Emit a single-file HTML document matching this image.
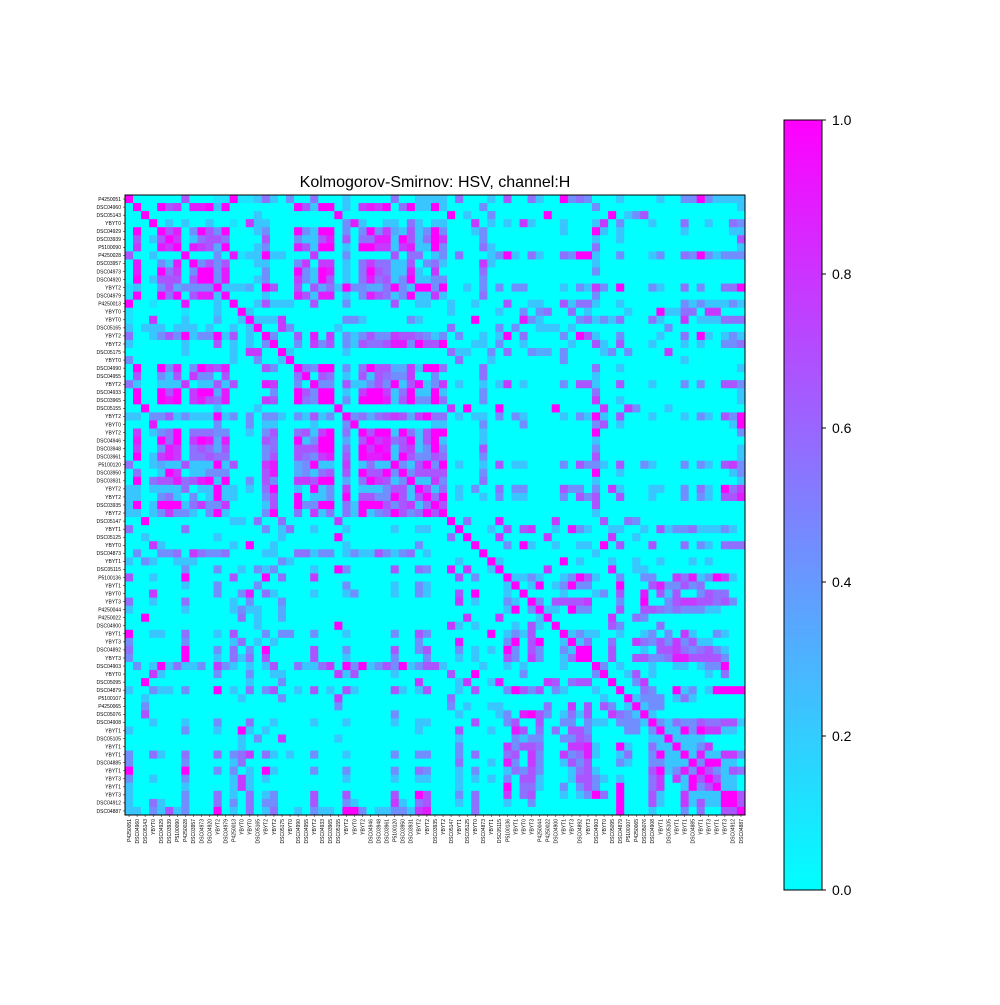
<!DOCTYPE html>
<html><head><meta charset="utf-8"><style>
body{margin:0;background:#fff;}
svg text{font-family:"Liberation Sans",sans-serif;}
</style></head><body>
<svg id="fig" width="1000" height="1000" viewBox="0 0 1000 1000">
<rect width="1000" height="1000" fill="#fff"/>
<text x="435" y="187" font-size="16" text-anchor="middle">Kolmogorov-Smirnov: HSV, channel:H</text>
<g id="cells"></g>
<g id="ylab"></g>
<g id="xlab"></g>
<rect x="125" y="195" width="620" height="620" fill="none" stroke="#000" stroke-width="1"/>
<defs><linearGradient id="cg" x1="0" y1="1" x2="0" y2="0"><stop offset="0" stop-color="#00ffff"/><stop offset="1" stop-color="#ff00ff"/></linearGradient></defs>
<rect x="784" y="120" width="38" height="770" fill="url(#cg)" stroke="#000" stroke-width="1"/>
<g id="cbt"></g>
</svg>
<script>
const labels=["P4250051","DSC04960","DSC05143","YBYT0","DSC04929","DSC03939","P5100090","P4250028","DSC03957","DSC04973","DSC04920","YBYT2","DSC04979","P4250013","YBYT0","YBYT0","DSC05165","YBYT2","YBYT2","DSC05175","YBYT0","DSC04990","DSC04955","YBYT2","DSC04933","DSC03965","DSC05155","YBYT2","YBYT0","YBYT2","DSC04946","DSC03948","DSC03961","P5100120","DSC03950","DSC03931","YBYT2","YBYT2","DSC03935","YBYT2","DSC05147","YBYT1","DSC05125","YBYT0","DSC04873","YBYT1","DSC05115","P5100136","YBYT1","YBYT0","YBYT3","P4250044","P4250022","DSC04900","YBYT1","YBYT3","DSC04892","YBYT3","DSC04903","YBYT0","DSC05095","DSC04879","P5100107","P4250065","DSC05076","DSC04908","YBYT1","DSC05105","YBYT1","YBYT1","DSC04885","YBYT1","YBYT3","YBYT1","YBYT3","DSC04912","DSC04887"];
const cbTicks=[0,0.2,0.4,0.6,0.8,1.0];
const cbTickLabels=["0.0","0.2","0.4","0.6","0.8","1.0"];
// sparse entries "col:value(0-9)" per row; matrix is symmetric
const rowEntries=[
"0:9,7:6,11:1,12:1,13:9,14:1,15:1,16:2,17:5,18:2,20:4,23:5,27:2,33:5,36:2,37:2,38:2,39:2,41:5,45:2,47:6,50:5,51:2,54:9,55:4,56:5,57:4,61:2,66:2,69:4,70:4,71:9,72:4,73:2,74:2,75:2,76:2",
"1:9,4:9,5:6,6:7,8:8,9:8,10:9,11:2,12:9,21:9,22:6,23:2,24:9,25:9,27:2,29:7,30:8,31:7,32:9,34:5,35:9,36:2,37:2,38:9,39:2,44:4,58:4,76:2",
"2:9,16:2,26:9,40:9,42:2,45:4,52:9,60:9,62:2,63:4,64:6",
"3:9,5:2,7:2,10:2,13:1,15:7,16:2,17:2,27:4,28:8,29:2,32:2,33:2,35:5,36:2,38:2,39:2,43:7,45:2,47:2,49:7,50:2,54:2,58:2,59:7,61:4,65:2,69:5,72:2,75:5,76:4",
"4:9,5:6,6:8,8:4,9:9,10:6,11:4,12:9,16:2,17:4,21:9,22:4,23:2,24:9,25:9,27:4,29:4,30:9,31:4,32:7,33:3,34:2,35:6,36:2,37:4,38:9,39:4,43:2,44:4,54:2,58:9,59:2,61:2,69:2,75:2,76:2",
"5:9,6:7,8:2,9:5,10:6,11:6,12:5,17:6,21:4,22:2,23:2,24:6,25:8,27:6,29:5,30:5,31:8,32:8,33:2,34:9,35:6,36:2,37:5,38:9,39:7,44:4,58:2,61:2,76:6",
"6:9,8:8,9:7,10:6,11:3,12:9,16:2,17:4,21:8,22:6,23:2,24:9,25:9,27:2,29:9,30:9,31:7,32:7,33:2,34:7,35:8,36:2,37:2,38:9,39:4,44:5,45:2,58:5,76:2",
"7:9,11:4,13:8,14:1,15:2,16:2,17:9,18:2,19:2,23:7,27:4,33:6,35:5,36:5,38:2,39:4,41:5,45:2,46:4,47:9,48:2,50:5,51:2,54:5,55:4,56:9,57:9,58:2,61:4,65:2,66:4,69:5,70:4,71:9,72:4,73:2,74:4,75:4,76:4",
"8:9,9:4,10:6,11:4,12:6,16:2,17:2,21:4,22:7,24:7,25:7,27:2,29:5,30:7,31:5,32:5,33:2,34:2,35:6,37:4,38:5,39:2,44:7,45:2,58:2",
"9:9,10:9,11:4,12:8,17:4,21:9,22:4,23:2,24:9,25:8,27:2,29:5,30:9,31:6,32:5,33:2,34:2,35:8,36:2,38:7,44:5,58:4",
"10:9,11:4,12:8,16:2,17:4,21:7,22:4,23:2,24:9,25:6,27:2,29:5,30:8,31:5,32:6,33:2,34:4,35:9,36:2,37:2,38:4,39:4,44:4",
"11:9,12:2,13:2,14:2,15:3,17:9,18:6,21:6,23:6,24:3,25:5,26:2,27:9,28:4,29:4,30:3,31:3,32:5,33:9,34:4,35:2,36:9,37:9,38:4,39:9,42:2,44:4,46:4,48:4,49:4,54:2,56:4,57:2,58:7,59:4,61:9,65:4,66:2,69:5,71:4,74:5,75:5,76:9",
"12:9,17:2,21:8,22:6,23:2,24:8,25:8,27:2,29:4,30:8,31:6,32:5,33:2,34:4,35:9,36:2,37:2,38:7,39:2,44:5,58:4",
"13:9,16:2,17:6,18:2,19:2,20:2,23:6,27:4,33:6,36:2,37:2,40:2,43:2,47:6,50:2,51:2,54:6,55:2,56:5,57:5,58:2,61:2,69:4,70:2,71:4,72:2,73:2,74:2,75:4,76:2",
"14:9,15:2,40:2,46:2,49:4,51:4,52:5,55:5,57:2,62:2,66:9,67:2,68:2,69:5,70:5,72:7,73:7",
"15:9,16:2,17:2,18:2,19:7,27:4,28:4,29:2,35:4,36:2,43:9,49:8,50:4,51:2,56:4,57:5,58:2,59:4,60:2,61:5,65:5,66:2,69:7,71:2,72:2,73:2,74:5,75:5,76:5",
"16:9,19:7,20:4,26:2,40:5,46:4,48:4,51:2,52:2,53:2,55:2,67:4",
"17:9,18:4,21:6,23:8,25:7,27:4,28:2,29:4,30:6,31:4,32:4,33:7,34:6,35:6,36:5,37:4,38:2,39:4,41:4,44:2,46:2,47:9,49:5,54:4,56:9,57:6,58:2,61:4,66:2,69:5,71:9,72:2,74:2,75:4,76:2",
"18:9,21:4,23:7,24:4,25:6,27:4,28:2,29:6,30:5,31:5,32:6,33:8,34:8,35:4,36:9,37:6,38:6,39:9,43:2,44:2,46:4,49:2,55:2,58:6,59:2,61:6,65:2,69:2,71:2,74:4,75:4,76:5",
"19:9,20:2,27:2,40:5,41:2,42:2,45:4,47:5,50:4,51:3,52:3,54:4,59:2,60:4,62:4,67:7",
"20:9,41:5,45:2,54:4,69:2",
"21:9,22:5,23:4,24:9,25:9,27:4,29:5,30:9,31:6,32:6,33:3,34:3,35:7,36:2,37:9,38:9,39:5,44:5,58:5,61:2,76:2",
"22:9,24:6,25:5,27:2,29:6,30:2,31:6,32:5,33:4,34:4,35:7,38:4,44:5,58:2",
"23:9,24:4,25:4,27:6,28:2,29:2,30:4,31:6,32:4,33:9,34:2,35:6,36:9,37:2,38:4,39:7,41:2,44:2,46:2,47:7,49:2,54:4,56:6,57:6,58:2,61:6,65:2,69:4,71:4,74:6,75:6,76:4",
"24:9,25:9,27:2,29:7,30:9,31:9,32:7,33:2,34:5,35:9,36:2,37:2,38:9,39:2,44:4,58:5,76:2",
"25:9,27:4,29:9,30:9,31:9,32:8,33:2,34:6,35:9,36:4,37:4,38:9,39:5,44:4,58:7,61:2,76:2",
"26:9,40:7,42:9,46:9,53:9,59:7,62:7,63:4,67:2",
"27:9,28:4,29:5,30:3,31:5,32:6,33:7,34:6,35:3,36:7,37:9,38:5,39:5,41:2,43:2,44:2,46:4,48:4,49:2,54:2,56:4,57:2,58:9,59:2,61:6,65:2,69:2,71:4,72:2,74:6,75:4,76:9",
"28:9,38:2,39:2,44:4,49:4,58:4,59:6,61:2,75:2,76:9",
"29:9,30:6,31:9,32:9,33:2,34:9,35:5,36:2,37:6,38:9,39:9,44:2,58:9,76:4",
"30:9,31:7,32:8,33:5,34:6,35:9,36:2,37:6,38:9,39:2,44:2,58:2",
"31:9,32:8,33:2,34:6,35:7,36:2,37:4,38:9,39:4,44:6,58:4,76:2",
"32:9,33:2,34:9,35:6,36:4,37:4,38:6,39:5,44:4,58:6,76:2",
"33:9,34:4,35:2,36:6,37:9,38:4,39:9,41:2,44:2,46:6,48:2,49:2,54:4,56:6,57:4,58:4,59:2,61:6,64:4,65:2,69:4,71:4,72:2,74:6,75:7,76:4",
"34:9,35:4,36:6,37:6,38:6,39:6,44:4,58:9,61:2,75:2,76:4",
"35:9,36:2,37:2,38:7,39:4,44:5,58:2,76:2",
"36:9,37:6,38:2,39:5,41:2,43:4,46:5,48:4,49:4,54:6,55:4,56:4,58:4,60:7,61:2,65:2,66:2,69:4,71:5,72:2,74:9,75:5,76:7",
"37:9,38:5,39:9,41:2,44:2,46:4,48:2,49:2,54:4,56:6,57:4,58:6,61:6,65:2,69:4,71:4,72:2,74:6,75:6,76:8",
"38:9,39:6,58:6",
"39:9,58:2",
"40:9,42:5,46:8,53:7,59:6,62:5,63:4",
"41:9,45:2,47:6,49:6,50:7,53:2,55:8,56:4,57:2,60:2,61:2,64:2,66:6,67:2,68:4,69:4,70:5,71:2,72:2,73:2,74:4,75:2",
"42:9,46:7,52:7,60:7,63:2",
"43:9,47:4,49:9,50:2,53:2,56:2,57:2,59:9,61:6,65:6,69:5,71:4,72:2,74:5,75:5,76:5",
"44:9,58:2",
"45:9,46:2,54:9,56:2,60:2,63:2,66:2,70:2,72:2",
"46:9,52:7,60:8,63:2,64:2",
"47:9,48:2,49:2,50:4,51:2,54:2,55:4,56:9,57:6,58:2,61:4,64:4,65:4,68:7,69:5,70:8,71:2,72:4,73:9,74:7,75:2",
"48:9,50:2,51:9,53:2,54:4,55:9,56:4,57:4,61:9,65:6,66:8,67:4,68:4,69:6,70:4,71:5",
"49:9,54:2,58:2,59:4,61:6,64:8,66:6,67:2,68:6,71:4,72:6,73:5,74:5",
"50:9,51:4,53:6,54:6,55:6,56:6,57:7,61:4,64:9,67:4,68:6,69:7,70:7,71:6,72:6,73:5,74:6,75:4",
"51:9,52:2,53:2,55:9,56:4,57:4,61:6,64:6,65:6,66:5,67:4,68:5,69:4,70:4,71:4,72:2,73:2",
"52:9,60:7,63:5,64:4",
"53:9,60:6,61:4,66:5",
"54:9,55:2,56:4,57:2,58:2,61:2,64:2,65:4,67:4,69:7,70:2,73:4,74:2",
"55:9,56:2,57:5,60:5,63:7,64:5,65:4,66:6,67:4,68:7,69:4,70:6,71:2,72:2",
"56:9,57:9,60:6,64:2,66:6,67:6,68:7,69:5,70:4,71:5,72:6,73:4,74:2",
"57:9,60:6,63:6,64:6,65:4,66:4,67:5,68:8,69:8,70:6,71:6,72:6,73:6,74:4",
"58:9,59:4,61:2,65:2,68:2,69:2,71:2,72:4,73:4,74:9",
"59:9,62:2,63:6,65:2,72:2,74:5",
"60:9,63:4,64:7",
"61:9,64:5,65:4,68:9,69:2,70:4,72:2,73:9,74:9,75:9,76:9",
"62:9,63:2,64:4,65:4,66:4,68:2,69:5,70:2",
"63:9,64:2,65:4,66:4",
"64:9,65:2",
"65:9,66:4,67:2,68:5,69:4,70:4,71:6,72:5,73:5,74:6,75:6,76:2",
"66:9,67:2,68:2,69:9,70:4,71:9,72:7,73:7,74:2,75:2",
"67:9,68:2,69:2,70:2,71:2",
"68:9,69:2,70:2,71:4,72:7",
"69:9,70:2,71:8,72:2,73:2,74:7,75:7,76:4",
"70:9,71:4,72:9,73:9,74:2,75:2",
"71:9,72:6,73:4,74:2,75:6,76:5",
"72:9,73:6,74:2,75:2",
"73:9,74:2,75:2",
"74:9,75:9,76:6",
"75:9,76:6",
"76:9"
];
const NS="http://www.w3.org/2000/svg";
const N=labels.length, X0=125, Y0=195, W=620;
const cw=W/N;
const M=[];for(let i=0;i<N;i++){M.push(new Array(N).fill(0));}
rowEntries.forEach((s,r)=>{s.split(",").forEach(p=>{const [c,v]=p.split(":").map(Number);M[r][c]=v/9;M[c][r]=v/9;});});
function xs(i){return X0+i*cw;}
function ys(i){return Y0+i*cw;}
function col(v){const r=Math.round(255*v),g=Math.round(255*(1-v));return `rgb(${r},${g},255)`;}
const gc=document.getElementById("cells");
for(let r=0;r<N;r++)for(let c=0;c<N;c++){
 const e=document.createElementNS(NS,"rect");
 e.setAttribute("x",xs(c).toFixed(2));e.setAttribute("y",ys(r).toFixed(2));
 e.setAttribute("width",(cw+0.5).toFixed(2));e.setAttribute("height",(cw+0.5).toFixed(2));
 e.setAttribute("fill",col(M[r][c]));
 
 
 gc.appendChild(e);
}
const gy=document.getElementById("ylab"),gx=document.getElementById("xlab");
labels.forEach((l,i)=>{
 const t=document.createElementNS(NS,"text");
 t.setAttribute("x",X0-4);t.setAttribute("y",(ys(i)+cw/2+1.8).toFixed(2));
 t.setAttribute("font-size","5");t.setAttribute("text-anchor","end");t.textContent=l;
 
 
 gy.appendChild(t);
 const tk=document.createElementNS(NS,"line");
 tk.setAttribute("x1",X0-2);tk.setAttribute("x2",X0);tk.setAttribute("y1",ys(i)+cw/2);tk.setAttribute("y2",ys(i)+cw/2);tk.setAttribute("stroke","#000");tk.setAttribute("stroke-width","0.5");
 
 
 gy.appendChild(tk);
 const cx=xs(i)+cw/2;
 const u=document.createElementNS(NS,"text");
 u.setAttribute("transform",`translate(${(cx+1.8).toFixed(2)},${Y0+W+4}) rotate(-90)`);
 u.setAttribute("font-size","5");u.setAttribute("text-anchor","end");u.textContent=l;
 
 
 gx.appendChild(u);
 const tx=document.createElementNS(NS,"line");
 tx.setAttribute("x1",cx);tx.setAttribute("x2",cx);tx.setAttribute("y1",Y0+W);tx.setAttribute("y2",Y0+W+2);tx.setAttribute("stroke","#000");tx.setAttribute("stroke-width","0.5");
 
 
 gx.appendChild(tx);
});
const gb=document.getElementById("cbt");
function cby(v){return 890-v*770;}
cbTicks.forEach((v,i)=>{
 const l=document.createElementNS(NS,"line");
 l.setAttribute("x1",822);l.setAttribute("x2",826);l.setAttribute("y1",cby(v));l.setAttribute("y2",cby(v));l.setAttribute("stroke","#000");
 
 
 gb.appendChild(l);
 const t=document.createElementNS(NS,"text");
 t.setAttribute("x",832);t.setAttribute("y",cby(v)+5);t.setAttribute("font-size","14");t.textContent=cbTickLabels[i];
 
 
 gb.appendChild(t);
});
</script>
</body></html>
